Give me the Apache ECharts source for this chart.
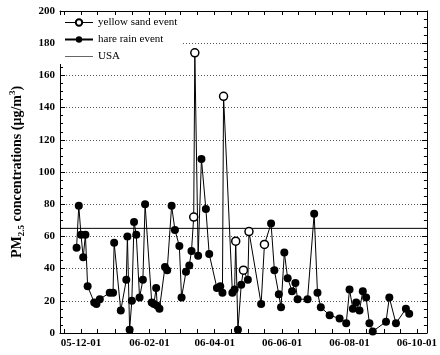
<!DOCTYPE html>
<html>
<head>
<meta charset="utf-8">
<script src="https://cdn.jsdelivr.net/npm/echarts@6/dist/echarts.min.js"></script>
<style>
  html, body { margin: 0; padding: 0; background: #fff; }
  #chart { width: 440px; height: 355px; }
</style>
</head>
<body>
<div id="chart"></div>
<script>
// sampling dates and PM2.5 values (all events, in time order)
var dates = [
  '2005-11-27', '2005-11-29', '2005-12-01', '2005-12-03', '2005-12-05', '2005-12-07',
  '2005-12-13', '2005-12-15', '2005-12-18', '2005-12-27', '2005-12-30', '2005-12-31',
  '2006-01-06', '2006-01-11', '2006-01-12', '2006-01-14', '2006-01-16', '2006-01-18',
  '2006-01-20', '2006-01-23', '2006-01-26', '2006-01-28', '2006-02-03', '2006-02-05',
  '2006-02-07', '2006-02-08', '2006-02-10', '2006-02-15', '2006-02-17', '2006-02-21',
  '2006-02-24', '2006-02-28', '2006-03-02', '2006-03-06', '2006-03-09', '2006-03-11',
  '2006-03-13', '2006-03-14', '2006-03-17', '2006-03-20', '2006-03-24', '2006-03-27',
  '2006-04-03', '2006-04-06', '2006-04-08', '2006-04-09', '2006-04-17', '2006-04-19',
  '2006-04-20', '2006-04-22', '2006-04-25', '2006-04-27', '2006-05-01', '2006-05-02',
  '2006-05-13', '2006-05-16', '2006-05-22', '2006-05-25', '2006-05-29', '2006-05-31',
  '2006-06-03', '2006-06-06', '2006-06-10', '2006-06-13', '2006-06-15', '2006-06-24',
  '2006-06-30', '2006-07-03', '2006-07-06', '2006-07-14', '2006-07-23', '2006-07-29',
  '2006-08-01', '2006-08-04', '2006-08-07', '2006-08-10', '2006-08-13', '2006-08-16',
  '2006-08-19', '2006-08-22', '2006-09-03', '2006-09-06', '2006-09-12', '2006-09-21',
  '2006-09-24'
];
var values = [
  53, 79, 61, 47, 61, 29,
  19, 18, 21, 25, 25, 56,
  14, 33, 60, 2, 20, 69,
  61, 22, 33, 80, 19, 18,
  28, 17, 15, 41, 39, 79,
  64, 54, 22, 38, 42, 51,
  72, 174, 48, 108, 77, 49,
  28, 29, 25, 147, 25, 27,
  57, 2, 30, 39, 33, 63,
  18, 55, 68, 39, 24, 16,
  50, 34, 26, 31, 21, 21,
  74, 25, 16, 11, 9, 6,
  27, 15, 19, 14, 26, 22,
  6, 1, 7, 22, 6, 15,
  12
];

// yellow sand event days (open circles)
var sandDates = ['2006-03-13', '2006-03-14', '2006-04-09', '2006-04-20', '2006-04-27', '2006-05-02', '2006-05-16'];
var sandValues = [72, 174, 147, 57, 39, 63, 55];

// USA 24-h standard
var usaLimit = 65;

var xMin = '2005-11-12';
var xMax = '2006-10-10';
var tickLabels = ['2005-12-01', '2006-02-01', '2006-04-01', '2006-06-01', '2006-08-01', '2006-10-01'];
var minorTicks = [
  '2005-11-16', '2005-12-01', '2005-12-16', '2006-01-01', '2006-01-16', '2006-02-01', '2006-02-15',
  '2006-03-01', '2006-03-16', '2006-04-01', '2006-04-16', '2006-05-01', '2006-05-16', '2006-06-01',
  '2006-06-16', '2006-07-01', '2006-07-16', '2006-08-01', '2006-08-16', '2006-09-01', '2006-09-16',
  '2006-10-01'
];

var serif = '"Liberation Serif", "DejaVu Serif", serif';
// dates as UTC timestamps on a plain value axis
var toTime = function (s) {
  var p = s.split('-');
  return Date.UTC(+p[0], +p[1] - 1, +p[2]);
};
var fmtDate = function (v) {
  var d = new Date(v);
  var p = function (n) { return (n < 10 ? '0' : '') + n; };
  return p(d.getUTCFullYear() % 100) + '-' + p(d.getUTCMonth() + 1) + '-' + p(d.getUTCDate());
};

var chart = echarts.init(document.getElementById('chart'));

var baseX = {
  type: 'value',
  min: toTime(xMin),
  max: toTime(xMax),
  axisLine: { show: true, onZero: false, lineStyle: { color: '#000', width: 1 } },
  axisTick: { show: true, inside: true, length: 4, lineStyle: { color: '#000' }, customValues: minorTicks.map(toTime) },
  splitLine: { show: false }
};

var baseY = {
  type: 'value',
  min: 0,
  max: 200,
  interval: 20,
  axisLine: { show: true, lineStyle: { color: '#000', width: 1 } },
  axisTick: { show: true, inside: true, length: 5, lineStyle: { color: '#000' } },
  minorTick: { show: true, splitNumber: 4, length: 3, lineStyle: { color: '#000' } }
};

chart.setOption({
  animation: false,
  backgroundColor: '#fff',
  grid: { left: 56, right: 8, top: 11, bottom: 22 },
  legend: {
    orient: 'vertical',
    left: 60,
    top: 15,
    itemGap: 6,
    itemWidth: 28,
    itemHeight: 8,
    padding: [2, 4, 2, 4],
    backgroundColor: '#fff',
    textStyle: { fontFamily: serif, fontSize: 11, color: '#000' },
    data: [
      { name: 'yellow sand event', lineStyle: { opacity: 1, width: 1, color: '#000' } },
      { name: 'hare rain event' },
      { name: 'USA', lineStyle: { color: '#666', width: 1 }, itemStyle: { opacity: 0 } }
    ]
  },
  xAxis: [
    Object.assign({}, baseX, {
      position: 'bottom',
      axisLabel: {
        show: true,
        customValues: tickLabels.map(toTime),
        formatter: fmtDate,
        fontFamily: serif,
        fontWeight: 'bold',
        fontSize: 11,
        color: '#000',
        margin: 5,
        hideOverlap: false
      }
    }),
    Object.assign({}, baseX, {
      position: 'top',
      axisLabel: { show: false }
    })
  ],
  yAxis: [
    Object.assign({}, baseY, {
      position: 'left',
      name: '{a|PM}{s|2.5}{a| concentrations (μg/m}{p|3}{a|)}',
      nameLocation: 'middle',
      nameGap: 34,
      nameTextStyle: {
        fontFamily: serif,
        fontWeight: 'bold',
        fontSize: 14,
        color: '#000',
        rich: {
          a: { fontFamily: serif, fontWeight: 'bold', fontSize: 14, lineHeight: 18, color: '#000' },
          s: { fontFamily: serif, fontWeight: 'bold', fontSize: 9, lineHeight: 9, verticalAlign: 'bottom', color: '#000' },
          p: { fontFamily: serif, fontWeight: 'bold', fontSize: 9, lineHeight: 9, verticalAlign: 'top', color: '#000' }
        }
      },
      axisLabel: { fontFamily: serif, fontWeight: 'bold', fontSize: 11, color: '#000', margin: 5 },
      splitLine: { show: true, lineStyle: { color: '#555', type: [1, 2], width: 1 } }
    }),
    Object.assign({}, baseY, {
      position: 'right',
      axisLabel: { show: false },
      splitLine: { show: false }
    })
  ],
  series: [
    {
      name: 'USA',
      type: 'line',
      data: [[toTime(xMin), usaLimit], [toTime(xMax), usaLimit]],
      symbol: 'none',
      itemStyle: { color: '#000' },
      lineStyle: { color: '#000', width: 1 },
      z: 1
    },
    {
      name: 'hare rain event',
      type: 'line',
      data: dates.map(function (d, i) { return [toTime(d), values[i]]; }),
      symbol: 'circle',
      symbolSize: 8,
      itemStyle: { color: '#000' },
      lineStyle: { color: '#000', width: 1 },
      z: 2
    },
    {
      name: 'yellow sand event',
      type: 'line',
      data: sandDates.map(function (d, i) { return [toTime(d), sandValues[i]]; }),
      symbol: 'circle',
      symbolSize: 8,
      itemStyle: { color: '#fff', borderColor: '#000', borderWidth: 1.5 },
      lineStyle: { opacity: 0 },
      z: 3
    }
  ]
});
</script>
</body>
</html>
